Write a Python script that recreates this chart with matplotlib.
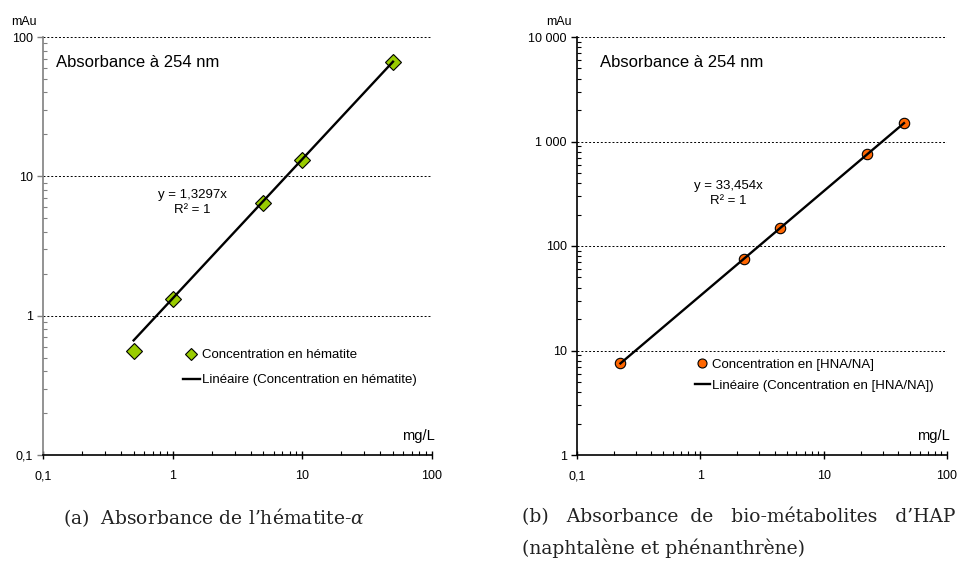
import matplotlib
matplotlib.use("Agg")
import matplotlib.pyplot as plt
from matplotlib.ticker import LogLocator, FuncFormatter, NullFormatter
import numpy as np

plt.rcParams['font.family'] = ['Liberation Sans', 'DejaVu Sans']
plt.rcParams['mathtext.fontset'] = 'dejavuserif'

# (a) hematite
hem_conc = [0.5, 1, 5, 10, 50]
hem_abs = [0.56, 1.31, 6.4, 13.2, 66]
hem_slope = 1.3297

# (b) HNA/NA
hap_conc = [0.225, 2.25, 4.45, 22.3, 44.8]
hap_abs = [7.6, 74.5, 148, 752, 1510]
hap_slope = 33.454


def tick_fmt(v, pos):
    if v < 1:
        return ("%g" % v).replace(".", ",")
    return "{:,}".format(int(round(v))).replace(",", " ")


def style_axes(ax, ylim, spine_col):
    ax.set_xscale('log')
    ax.set_yscale('log')
    ax.set_xlim(0.1, 100)
    ax.set_ylim(*ylim)
    for s in ['top', 'right']:
        ax.spines[s].set_visible(False)
    ax.spines['left'].set_color(spine_col)
    ax.spines['left'].set_linewidth(1.2)
    ax.spines['bottom'].set_linewidth(1.2)
    ax.xaxis.set_major_locator(LogLocator(base=10, numticks=10))
    ax.yaxis.set_major_locator(LogLocator(base=10, numticks=10))
    ax.xaxis.set_minor_locator(LogLocator(base=10, subs=np.arange(2, 10), numticks=10))
    ax.yaxis.set_minor_locator(LogLocator(base=10, subs=np.arange(2, 10), numticks=10))
    ax.xaxis.set_major_formatter(FuncFormatter(tick_fmt))
    ax.yaxis.set_major_formatter(FuncFormatter(tick_fmt))
    ax.xaxis.set_minor_formatter(NullFormatter())
    ax.yaxis.set_minor_formatter(NullFormatter())
    ax.tick_params(axis='x', which='major', direction='inout', length=6, width=1, labelsize=9, pad=8)
    ax.tick_params(axis='x', which='minor', direction='in', length=3, width=0.8)
    ax.tick_params(axis='y', which='major', direction='out', length=4, width=1,
                   color=spine_col, labelsize=9, pad=3.5)
    ax.tick_params(axis='y', which='minor', direction='in', length=3, width=0.8, color=spine_col)
    ax.yaxis.grid(True, which='major', color='black', linestyle=(0, (2, 2)), linewidth=0.7)
    ax.set_axisbelow(True)
    ax.text(-0.05, 1.035, 'mAu', transform=ax.transAxes, ha='center', va='center', fontsize=9)
    ax.text(1.008, 0.045, 'mg/L', transform=ax.transAxes, ha='right', va='center', fontsize=10.5)


fig = plt.figure(figsize=(9.6, 5.61), dpi=100)
ax1 = fig.add_axes([43 / 960, 1 - 455 / 561, 389 / 960, 418 / 561])
ax2 = fig.add_axes([577 / 960, 1 - 455 / 561, 370 / 960, 418 / 561])

# --- (a)
style_axes(ax1, (0.1, 100), '#808080')
ax1.plot(hem_conc, hem_abs, linestyle='none', marker='D', markersize=8,
         markerfacecolor='#99CC00', markeredgecolor='black', markeredgewidth=0.8,
         label='Concentration en hématite', zorder=3, clip_on=False)
xf = np.array([min(hem_conc), max(hem_conc)])
ax1.plot(xf, hem_slope * xf, color='black', linewidth=1.7,
         label='Linéaire (Concentration en hématite)', zorder=4)
ax1.text(0.033, 0.938, 'Absorbance à 254 nm', transform=ax1.transAxes,
         ha='left', va='center', fontsize=12)
ax1.text(0.383, 0.604, 'y = 1,3297x\nR² = 1', transform=ax1.transAxes,
         ha='center', va='center', fontsize=9.5, linespacing=1.4)
leg1 = ax1.legend(loc='upper left', bbox_to_anchor=(0.36, 0.253), frameon=False,
                  fontsize=9.5, handlelength=1.25, handletextpad=0.22,
                  borderpad=0, borderaxespad=0, labelspacing=0.95)
leg1.legend_handles[0].set_markersize(6)

# --- (b)
style_axes(ax2, (1, 10000), 'black')
ax2.plot(hap_conc, hap_abs, linestyle='none', marker='o', markersize=7.5,
         markerfacecolor='#FF6600', markeredgecolor='black', markeredgewidth=0.8,
         label='Concentration en [HNA/NA]', zorder=3, clip_on=False)
xf = np.array([min(hap_conc), max(hap_conc)])
ax2.plot(xf, hap_slope * xf, color='black', linewidth=1.7,
         label='Linéaire (Concentration en [HNA/NA])', zorder=4)
ax2.text(0.062, 0.94, 'Absorbance à 254 nm', transform=ax2.transAxes,
         ha='left', va='center', fontsize=12)
ax2.text(0.408, 0.626, 'y = 33,454x\nR² = 1', transform=ax2.transAxes,
         ha='center', va='center', fontsize=9.5, linespacing=1.4)
leg2 = ax2.legend(loc='upper left', bbox_to_anchor=(0.319, 0.23), frameon=False,
                  fontsize=9.5, handlelength=1.1, handletextpad=0.22,
                  borderpad=0, borderaxespad=0, labelspacing=0.64)
leg2.legend_handles[0].set_markersize(6.5)

# captions
cap = dict(family=['DejaVu Serif'], fontsize=13.5, color='#222222')
fig.text(63 / 960, 1 - 518 / 561, "(a)  Absorbance de l’hématite-$\\alpha$",
         ha='left', va='center', **cap)
fig.text(522 / 960, 1 - 517 / 561, "(b)   Absorbance  de   bio-métabolites   d’HAP",
         ha='left', va='center', **cap)
fig.text(522 / 960, 1 - 548 / 561, "(naphtalène et phénanthrène)",
         ha='left', va='center', **cap)

fig.savefig('out.png', dpi=100)
